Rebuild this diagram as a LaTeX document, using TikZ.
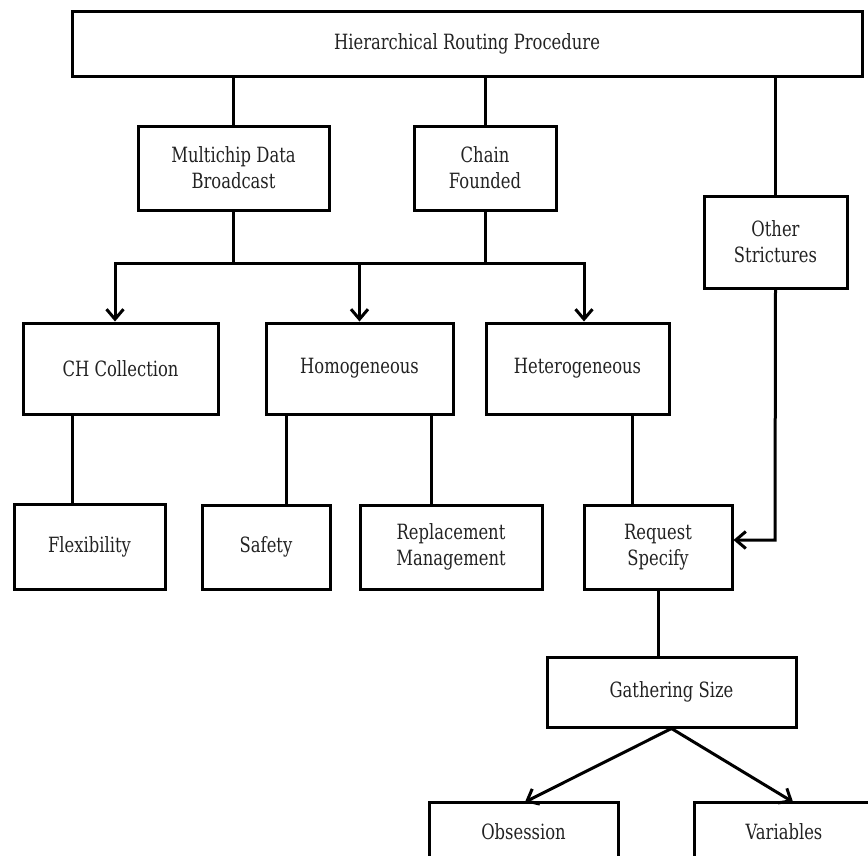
\documentclass[tikz,border=0pt]{standalone}
\usepackage{fontspec}
\setmainfont{DejaVu Serif}[FakeStretch=0.78]
\usetikzlibrary{arrows.meta}
\definecolor{ink}{HTML}{000000}
\definecolor{txt}{HTML}{222222}
\tikzset{
  box/.style={draw=ink, line width=3pt, rectangle, inner sep=0pt,
    align=center, text=txt, font=\fontsize{21}{26}\selectfont},
  link/.style={draw=ink, line width=3pt},
  arr/.style={link, -{Straight Barb[length=10pt,width=17pt,line width=3pt]}}
}
\begin{document}
\begin{tikzpicture}[x=1pt,y=-1pt]
\useasboundingbox (0,0) rectangle (868,855);
\clip (0,0) rectangle (868,855);

% boxes
\node[box, minimum width=790pt, minimum height=65pt] (top) at (467,43.5) {Hierarchical Routing Procedure};
\node[box, minimum width=191pt, minimum height=84pt] (mb) at (233.5,168) {Multichip Data\\Broadcast};
\node[box, minimum width=142pt, minimum height=84pt] (cf) at (485,168) {Chain\\Founded};
\node[box, minimum width=143pt, minimum height=92pt] (os) at (775.5,242) {Other\\Strictures};
\node[box, minimum width=195pt, minimum height=91pt] (chc) at (120.5,368.5) {CH Collection};
\node[box, minimum width=187pt, minimum height=91pt] (hom) at (359.5,368.5) {Homogeneous};
\node[box, minimum width=183pt, minimum height=91pt] (het) at (577.5,368.5) {Heterogeneous};
\node[box, minimum width=151pt, minimum height=85pt] (flex) at (89.5,546.5) {Flexibility};
\node[box, minimum width=128pt, minimum height=84pt] (saf) at (266,547) {Safety};
\node[box, minimum width=182pt, minimum height=84pt] (rep) at (451,547) {Replacement\\Management};
\node[box, minimum width=148pt, minimum height=84pt] (rs) at (658,547) {Request\\Specify};
\node[box, minimum width=249pt, minimum height=70pt] (gs) at (671.5,692) {Gathering Size};
\node[box, minimum width=189pt, minimum height=60pt] (obs) at (523.5,832) {Obsession};
\node[box, minimum width=180pt, minimum height=60pt] (var) at (784,832) {Variables};

% junction points
\coordinate (busL) at (115,263);
\coordinate (busR) at (584,263);
\coordinate (bend) at (775,540);
\coordinate (tipO) at (525,802);
\coordinate (tipV) at (793,802);

% top level
\draw[link] (mb.north) -- (mb.north |- top.south);
\draw[link] (cf.north) -- (cf.north |- top.south);
\draw[link] (os.north) -- (os.north |- top.south);

% bus to second level
\draw[link] (mb.south) -- (mb.south |- busL);
\draw[link] (cf.south) -- (cf.south |- busL);
\draw[link, line cap=rect] (busL) -- (busR);
\draw[arr] (busL) -- (busL |- chc.north);
\draw[arr] (hom.north |- busL) -- (hom.north);
\draw[arr] (busR) -- (busR |- het.north);

% third level
\draw[link] (flex.north -| 72,0) -- (chc.south -| 72,0);
\draw[link] (saf.north -| 286,0) -- (hom.south -| 286,0);
\draw[link] (rep.north -| 431,0) -- (hom.south -| 431,0);
\draw[link] (rs.north -| 632,0) -- (het.south -| 632,0);

% side branch
\draw[arr] (os.south) -- (bend) -- (bend -| rs.east);

% lower levels
\draw[link] (rs.south) -- (rs.south |- gs.north);
\draw[arr] (gs.south) -- (tipO);
\draw[arr] (gs.south) -- (tipV);
\end{tikzpicture}
\end{document}
